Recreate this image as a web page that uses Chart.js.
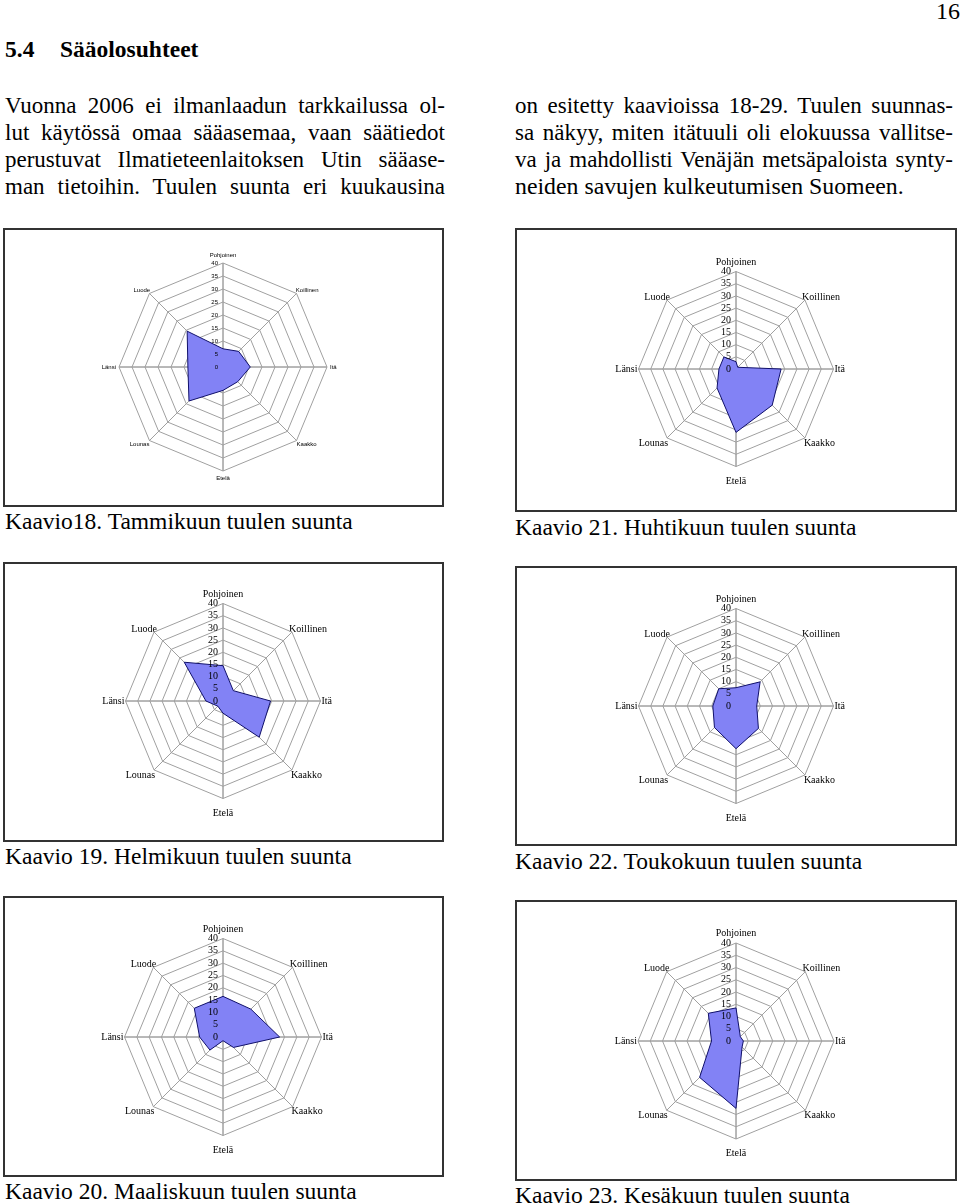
<!DOCTYPE html>
<html>
<head>
<meta charset="utf-8">
<script src="https://cdn.jsdelivr.net/npm/chart.js@4/dist/chart.umd.min.js"></script>
<style>
body { margin: 0; width: 960px; height: 1204px; position: relative; background: #fff; font-family: "Liberation Serif", "Times New Roman", serif; color: #000; overflow: hidden; }
.t { position: absolute; font-size: 23px; line-height: 27px; white-space: nowrap; }
.j { text-align: justify; text-align-last: justify; white-space: normal; }
.h { font-weight: bold; font-size: 23.5px; }
.box { position: absolute; border: 2px solid #333; box-sizing: border-box; }
.box canvas { position: absolute; left: 0; top: 0; }
.cap { position: absolute; font-size: 23.5px; line-height: 26px; white-space: nowrap; }
</style>
</head>
<body>

<div class="t" style="left:936px;top:-2px;font-size:24px;">16</div>
<div class="t h" style="left:5px;top:36px;">5.4</div>
<div class="t h" style="left:60px;top:36px;">Sääolosuhteet</div>

<div class="t j" style="left:5px;top:92px;width:440px;">Vuonna 2006 ei ilmanlaadun tarkkailussa ol-</div>
<div class="t j" style="left:5px;top:119px;width:440px;">lut käytössä omaa sääasemaa, vaan säätiedot</div>
<div class="t j" style="left:5px;top:146px;width:440px;">perustuvat Ilmatieteenlaitoksen Utin sääase-</div>
<div class="t j" style="left:5px;top:173px;width:440px;">man tietoihin. Tuulen suunta eri kuukausina</div>

<div class="t j" style="left:515px;top:92px;width:438px;">on esitetty kaavioissa 18-29. Tuulen suunnas-</div>
<div class="t j" style="left:515px;top:119px;width:438px;">sa näkyy, miten itätuuli oli elokuussa vallitse-</div>
<div class="t j" style="left:515px;top:146px;width:438px;">va ja mahdollisti Venäjän metsäpaloista synty-</div>
<div class="t" style="left:515px;top:173px;font-size:23.8px;">neiden savujen kulkeutumisen Suomeen.</div>

<div class="box" style="left:3px;top:228px;width:441px;height:279px;"><canvas id="c1"></canvas></div>
<div class="box" style="left:515px;top:228px;width:442px;height:284px;"><canvas id="c2"></canvas></div>
<div class="box" style="left:3px;top:562px;width:441px;height:280px;"><canvas id="c3"></canvas></div>
<div class="box" style="left:515px;top:566px;width:442px;height:280px;"><canvas id="c4"></canvas></div>
<div class="box" style="left:3px;top:896px;width:441px;height:281px;"><canvas id="c5"></canvas></div>
<div class="box" style="left:515px;top:900px;width:442px;height:281px;"><canvas id="c6"></canvas></div>

<div class="cap" style="left:5px;top:508px;">Kaavio18. Tammikuun tuulen suunta</div>
<div class="cap" style="left:515px;top:514px;">Kaavio 21. Huhtikuun tuulen suunta</div>
<div class="cap" style="left:5px;top:843px;">Kaavio 19. Helmikuun tuulen suunta</div>
<div class="cap" style="left:515px;top:848px;">Kaavio 22. Toukokuun tuulen suunta</div>
<div class="cap" style="left:5px;top:1178px;">Kaavio 20. Maaliskuun tuulen suunta</div>
<div class="cap" style="left:515px;top:1182px;">Kaavio 23. Kesäkuun tuulen suunta</div>

<script>
// Tuulen suunnat (myötäpäivään pohjoisesta)
var directions = ['Pohjoinen', 'Koillinen', 'Itä', 'Kaakko', 'Etelä', 'Lounas', 'Länsi', 'Luode'];

// Tuulen suunnan osuudet kuukausittain
var tammikuu = [7, 8.5, 10.5, 8, 9, 18.5, 13.5, 19.5];
var helmikuu = [14.5, 6, 19.5, 21, 5, 3, 7, 22.5];
var maaliskuu = [16.5, 16, 23, 6, 1.5, 7.5, 9.5, 16.5];
var huhtikuu = [3, 1, 18.5, 21, 26, 11, 7, 7];
var toukokuu = [7.5, 14, 8.5, 13, 17.5, 12.5, 9.5, 10];
var kesakuu = [13.5, 2.5, 3, 3.5, 27.5, 21, 10, 16];

// Asteikko
var scaleMin = 0;
var scaleMax = 40;
var scaleStep = 5;

var FIG = '\u2007';
var SERIF = '"Liberation Serif", "Times New Roman", serif';
var SANS = '"Liberation Sans", Arial, sans-serif';

// label gaps: [top, upper diagonal, side, lower diagonal, bottom]
function labelPadding(gaps) {
    return function (ctx) {
        var i = ctx.index;
        if (i === 0) return gaps[0];
        if (i === 4) return gaps[4];
        if (i === 2 || i === 6) return gaps[2];
        if (i === 1 || i === 7) return gaps[1];
        return gaps[3];
    };
}

function makeRadar(id, values, radius, cy, family, size, gaps, extraSpaces) {
    var canvas = document.getElementById(id);
    var box = canvas.parentNode;
    canvas.width = box.clientWidth;
    canvas.height = box.clientHeight;
    var ring = radius * scaleStep / (scaleMax - scaleMin);
    var pad = labelPadding(gaps);

    function tickLabel(value) {
        // pad so the centred label sits right-aligned left of the axis
        function padded(s) { return s + FIG.repeat(s.length + extraSpaces); }
        if (value === scaleMin + scaleStep) {
            return [padded(String(value)), padded(String(scaleMin))];
        }
        return padded(String(value));
    }

    function radial(front) {
        return {
            type: 'radialLinear',
            axis: 'r',
            min: scaleMin,
            max: scaleMax,
            z: front ? 1 : 0,
            grid: { display: !front, color: '#a0a0a0', lineWidth: 1 },
            angleLines: { color: '#a0a0a0', lineWidth: 1 },
            pointLabels: {
                color: front ? 'rgba(0,0,0,0)' : '#000',
                padding: pad,
                font: { family: family, size: size }
            },
            ticks: {
                z: front ? 1 : 0,
                stepSize: scaleStep,
                autoSkip: false,
                color: front ? '#000' : 'rgba(0,0,0,0)',
                showLabelBackdrop: false,
                font: { family: family, size: size, lineHeight: ring + 'px' },
                callback: tickLabel
            }
        };
    }

    var chart = new Chart(canvas, {
        type: 'radar',
        data: {
            labels: directions,
            datasets: [{
                data: values,
                backgroundColor: '#8282f5',
                borderColor: '#10106a',
                borderWidth: 1,
                pointRadius: 0,
                fill: true
            }]
        },
        options: {
            responsive: false,
            animation: false,
            layout: { padding: { top: 20, bottom: 20, left: 0, right: 0 } },
            plugins: { legend: { display: false }, tooltip: { enabled: false } },
            scales: { r: radial(false), rFront: radial(true) }
        }
    });

    // tune the layout padding until the scale has the wanted radius and centre
    for (var k = 0; k < 4; k++) {
        var s = chart.scales.r;
        var dr = s.drawingArea - radius;
        var dy = s.yCenter - cy;
        var p = chart.options.layout.padding;
        p.top += dr - dy;
        p.bottom += dr + dy;
        chart.update();
    }
    return chart;
}

var serifGaps = [-3.5, -11, -6, -8.5, 1.5];
makeRadar('c1', tammikuu, 104, 137, SANS, 6, [-1, -6, -2, -5, -1], 3);
makeRadar('c2', huhtikuu, 98, 139.5, SERIF, 10, serifGaps, 2);
makeRadar('c3', helmikuu, 98, 137.5, SERIF, 10, serifGaps, 2);
makeRadar('c4', toukokuu, 98, 138.5, SERIF, 10, serifGaps, 2);
makeRadar('c5', maaliskuu, 98, 138.5, SERIF, 10, serifGaps, 2);
makeRadar('c6', kesakuu, 97.5, 138.5, SERIF, 10, serifGaps, 2);
</script>
</body>
</html>
